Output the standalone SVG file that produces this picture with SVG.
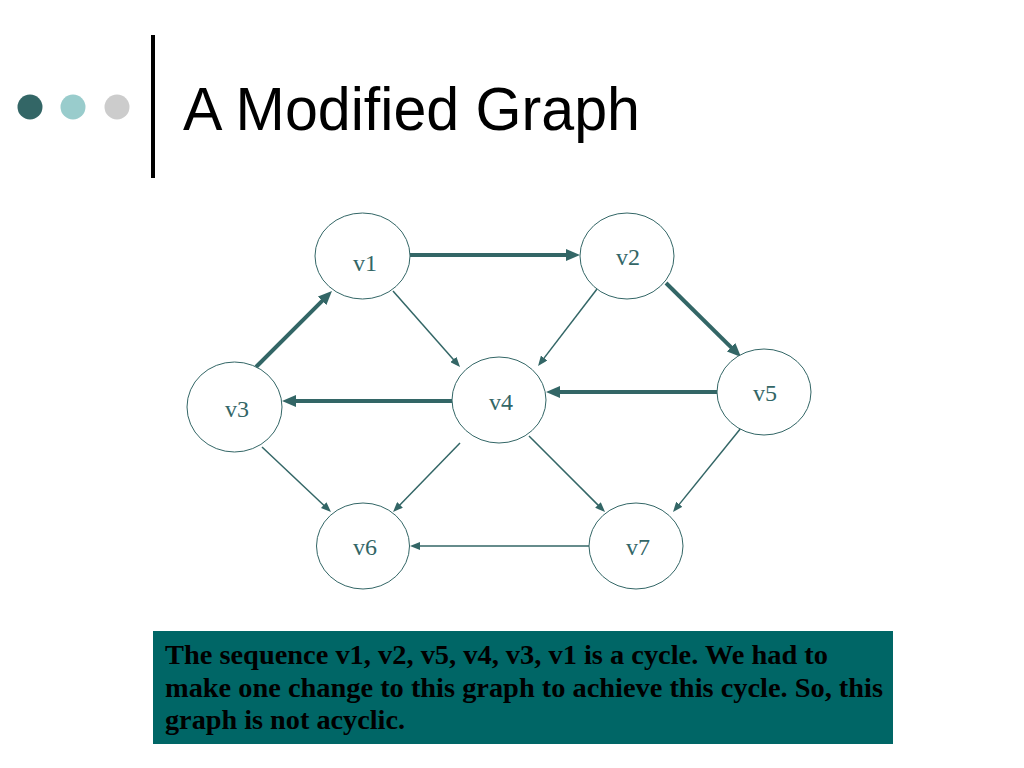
<svg xmlns="http://www.w3.org/2000/svg" width="1024" height="768" viewBox="0 0 1024 768">
<defs>
<style>
.node ellipse{fill:#ffffff;stroke:#336666;stroke-width:1}
.node text{font-family:"Liberation Serif","Times New Roman",serif;font-size:24px;fill:#336666;text-anchor:middle}
.thick{stroke:#336666;stroke-width:4;fill:none;marker-end:url(#ah-thick)}
.thin{stroke:#336666;stroke-width:1.5;fill:none;marker-end:url(#ah-thin)}
.note{font-family:"Liberation Serif","Times New Roman",serif;font-size:28px;font-weight:bold;fill:#000000}
</style>
<marker id="ah-thick" markerUnits="userSpaceOnUse" markerWidth="14" markerHeight="12" refX="3" refY="6" orient="auto">
<path d="M0,0 L14,6 L0,12 z" fill="#336666"/>
</marker>
<marker id="ah-thin" markerUnits="userSpaceOnUse" markerWidth="10" markerHeight="8" refX="3" refY="4" orient="auto">
<path d="M0,0 L10,4 L0,8 z" fill="#336666"/>
</marker>
</defs>
<rect width="1024" height="768" fill="#ffffff"/>
<g id="header">
<circle cx="30" cy="107" r="12.5" fill="#336666"/>
<circle cx="73" cy="107" r="12.5" fill="#99cccc"/>
<circle cx="117" cy="107" r="12.5" fill="#cccccc"/>
<rect x="151" y="35" width="4" height="143" fill="#000000"/>
<text x="183" y="130" font-family="'Liberation Sans', Arial, sans-serif" font-size="62" fill="#000000" textLength="457" lengthAdjust="spacingAndGlyphs">A Modified Graph</text>
</g>
<g id="connectors">
<line class="thick" x1="410" y1="255" x2="569" y2="255"/>
<line class="thick" x1="666" y1="283" x2="733.2" y2="349.3"/>
<line class="thick" x1="717" y1="392" x2="557" y2="392"/>
<line class="thick" x1="452" y1="401" x2="293" y2="401"/>
<line class="thick" x1="256" y1="367" x2="324.2" y2="298.8"/>
<line class="thin" x1="393" y1="291" x2="455.4" y2="361.7"/>
<line class="thin" x1="597" y1="289" x2="542.3" y2="360.4"/>
<line class="thin" x1="262" y1="447" x2="325.9" y2="507.2" stroke-width="2"/>
<line class="thin" x1="460" y1="443" x2="397.9" y2="507"/>
<line class="thin" x1="529" y1="436" x2="600.1" y2="507.1"/>
<line class="thin" x1="741" y1="428" x2="677.4" y2="506.6"/>
<line class="thin" x1="589" y1="546" x2="417" y2="546"/>
</g>
<g id="v1" class="node"><ellipse cx="362.5" cy="256" rx="47.5" ry="43"/><text x="365" y="271">v1</text></g>
<g id="v2" class="node"><ellipse cx="627" cy="256" rx="47" ry="43"/><text x="628" y="265">v2</text></g>
<g id="v3" class="node"><ellipse cx="234.5" cy="407" rx="47.5" ry="45"/><text x="237" y="417">v3</text></g>
<g id="v4" class="node"><ellipse cx="499" cy="400" rx="47" ry="43"/><text x="501" y="410">v4</text></g>
<g id="v5" class="node"><ellipse cx="764" cy="392" rx="47" ry="43"/><text x="765" y="401">v5</text></g>
<g id="v6" class="node"><ellipse cx="363" cy="546" rx="46.5" ry="43"/><text x="365" y="555">v6</text></g>
<g id="v7" class="node"><ellipse cx="636" cy="546" rx="47" ry="43"/><text x="638" y="555">v7</text></g>
<g id="note">
<rect x="153" y="631" width="740" height="113" fill="#006666"/>
<text class="note" x="165" y="664" textLength="663" lengthAdjust="spacingAndGlyphs">The sequence v1, v2, v5, v4, v3, v1 is a cycle. We had to</text>
<text class="note" x="165" y="697" textLength="718" lengthAdjust="spacingAndGlyphs">make one change to this graph to achieve this cycle. So, this</text>
<text class="note" x="165" y="729" textLength="240" lengthAdjust="spacingAndGlyphs">graph is not acyclic.</text>
</g>
</svg>
